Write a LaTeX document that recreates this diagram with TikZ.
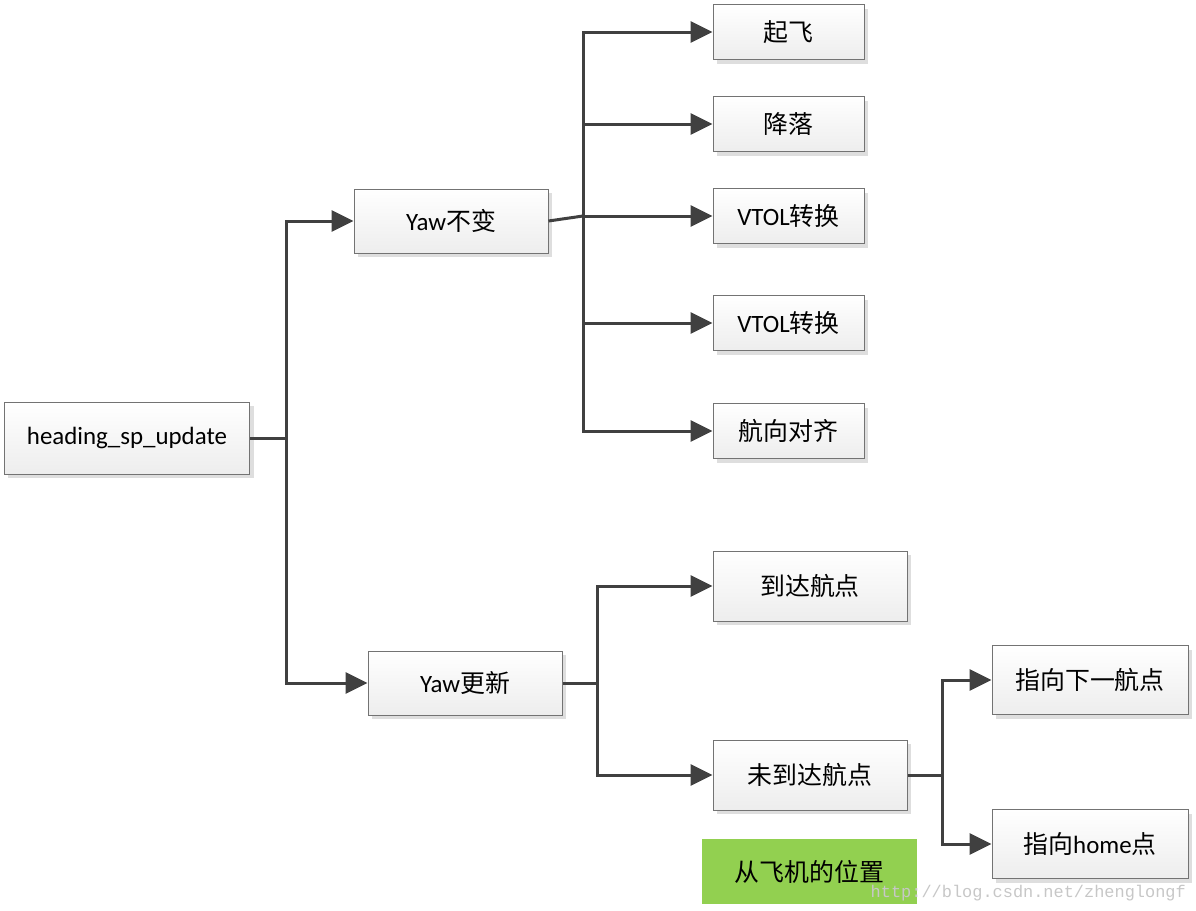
\documentclass[tikz,border=0pt]{standalone}
\usepackage{fontspec}
\setmainfont{Carlito}
\newfontfamily\cjk{Noto Sans CJK SC}
\newfontfamily\marca{Liberation Mono}
\usetikzlibrary{arrows.meta,shadows}
\definecolor{linea}{HTML}{404040}
\definecolor{verde}{HTML}{92D050}
\tikzset{
  caja/.style={draw=black!55, line width=1bp, top color=white, bottom color=black!7,
    drop shadow={shadow xshift=4bp, shadow yshift=-4bp, fill=black!13, opacity=1},
    inner sep=0pt, font=\fontsize{25}{30}\selectfont},
  cajaA/.style={caja, minimum width=194bp, minimum height=64bp},
  cajaB/.style={caja, minimum width=151bp, minimum height=55bp},
  cajaC/.style={caja, minimum width=194bp, minimum height=70bp},
  cajaD/.style={caja, minimum width=196bp, minimum height=69bp},
  tramo/.style={draw=linea, line width=3bp},
  flecha/.style={tramo, -{Triangle[length=22bp,width=21bp]}}
}
\begin{document}
\begin{tikzpicture}[x=1bp,y=-1bp]
		\useasboundingbox (0,0) rectangle (1196,911);
		\node[caja, minimum width=245bp, minimum height=72bp] (heading) at (127,438) {heading\_sp\_update};
		\node[cajaA] (yawfijo) at (451,221) {Yaw{\cjk 不变}};
		\node[cajaA] (yawnuevo) at (465,683) {Yaw{\cjk 更新}};
		% rama yaw sin cambio
		\foreach \Yc/\Nombre/\Texto in 
		{32/despegue/{\cjk 起飞},124/aterrizaje/{\cjk 降落},216/vtolA/VTOL{\cjk 转换},
		 323/vtolB/VTOL{\cjk 转换},431/alinear/{\cjk 航向对齐}}
		{
			\node[cajaB] (\Nombre) at (788.5,\Yc) {\Texto};
		}
		\node[cajaC] (llegado) at (810,586) {\cjk 到达航点};
		\node[cajaC] (nollegado) at (810,775) {\cjk 未到达航点};
		\node[cajaD] (siguiente) at (1090,680) {{\cjk 指向下一航点}};
		\node[cajaD] (casa) at (1090,844) {{\cjk 指向}home{\cjk 点}};
		\node[fill=verde, minimum width=215bp, minimum height=65bp, inner sep=0pt,
			font=\cjk\fontsize{25}{30}\selectfont] (posicion) at (809.5,871.5) {从飞机的位置};
		\node[anchor=base east, text=black!22, inner sep=0pt,
			font=\marca\fontsize{17}{17}\selectfont] (marca) at (1186,897) {http://blog.csdn.net/zhenglongf};
		% conectores
		\coordinate (busA) at (286,438);
		\coordinate (busB) at (583,216);
		\coordinate (busC) at (597,683);
		\coordinate (busD) at (942,775);
		\draw[tramo] (heading.east) -- (busA);
		\draw[flecha] (busA) |- (yawfijo.west);
		\draw[flecha] (busA) |- (yawnuevo.west);
		\draw[tramo] (yawfijo.east) -- (busB);
		\foreach \Nombre in {despegue,aterrizaje,vtolA,vtolB,alinear}
		{
			\draw[flecha] (busB) |- (\Nombre.west);
		}
		\draw[tramo] (yawnuevo.east) -- (busC);
		\draw[flecha] (busC) |- (llegado.west);
		\draw[flecha] (busC) |- (nollegado.west);
		\draw[tramo] (nollegado.east) -- (busD);
		\draw[flecha] (busD) |- (siguiente.west);
		\draw[flecha] (busD) |- (casa.west);
\end{tikzpicture}
\end{document}
